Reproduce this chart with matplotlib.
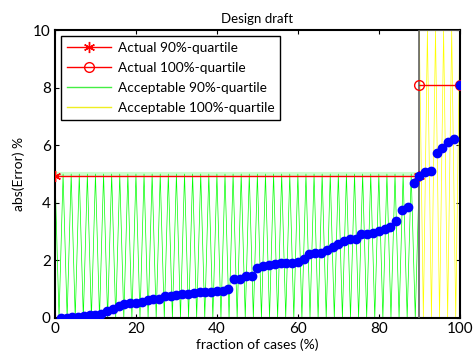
import matplotlib
matplotlib.use("Agg")
import matplotlib.pyplot as plt
import numpy as np

plt.rcParams['font.family'] = ['Lato', 'DejaVu Sans']

# sorted absolute errors (%) for each case
errors = [0.00, 0.01, 0.03, 0.05, 0.08, 0.10, 0.10, 0.13, 0.24, 0.31,
          0.43, 0.50, 0.52, 0.53, 0.57, 0.61, 0.65, 0.66, 0.75, 0.76,
          0.80, 0.82, 0.84, 0.88, 0.90, 0.91, 0.91, 0.94, 0.95, 1.02,
          1.34, 1.36, 1.47, 1.47, 1.72, 1.81, 1.84, 1.87, 1.90, 1.90,
          1.92, 1.96, 2.06, 2.21, 2.27, 2.27, 2.35, 2.45, 2.57, 2.68,
          2.74, 2.74, 2.92, 2.92, 2.96, 3.03, 3.10, 3.17, 3.37, 3.75,
          3.87, 4.68, 4.93, 5.06, 5.10, 5.72, 5.89, 6.10, 6.22, 8.10]

accept_90 = 5.0    # acceptable error for 90% of cases
accept_100 = 10.0  # acceptable error for all cases

n = len(errors)
frac = 100.0 * np.arange(1, n + 1) / n
q90 = errors[int(round(0.9 * n)) - 1]
q100 = errors[-1]

star = (6, 2, 0)  # asterisk marker

fig = plt.figure(figsize=(4.74, 3.63), dpi=100)
ax = fig.add_axes([0.116, 0.124, 0.854, 0.793])

# acceptance regions drawn as zigzag hatching
xg = np.arange(0, 91)
yg = np.where(xg % 2 == 0, accept_90, 0.0)
ax.plot([0, 90], [accept_90, accept_90], color='#00ff00', lw=3, alpha=0.2, zorder=1)
ax.plot(xg, yg, color='#00ff00', lw=0.5, zorder=2)

xy = np.arange(90, 101)
yy = np.where(xy % 2 == 0, accept_100, 0.0)
ax.plot(xy, yy, color='#ffff00', lw=0.5, zorder=2)
ax.plot([90, 90, 100], [0, accept_100, accept_100], color='#606060', lw=1.2, zorder=3)

# actual quartiles
ax.plot([0, 90], [q90, q90], color='#ff0000', lw=1.0, marker=star, ms=8, zorder=4)
ax.plot([90, 100], [q100, q100], color='#ff0000', lw=1.0, marker='o', ms=7,
        mfc='none', zorder=4)

ax.plot(frac, errors, 'o', color='#0000ff', ms=6, zorder=5)

# legend proxies
h1, = ax.plot([], [], color='#ff0000', lw=1.0, marker=star, ms=8)
h2, = ax.plot([], [], color='#ff0000', lw=1.0, marker='o', ms=7, mfc='none')
h3, = ax.plot([], [], color='#44ee44', lw=1.0)
h4, = ax.plot([], [], color='#eeee22', lw=1.0)
leg = ax.legend([h1, h2, h3, h4],
                ['Actual 90%-quartile', 'Actual 100%-quartile',
                 'Acceptable 90%-quartile', 'Acceptable 100%-quartile'],
                loc='upper left', fontsize=9.8, fancybox=False, framealpha=1,
                edgecolor='black', handlelength=3.3, borderaxespad=0.45,
                labelspacing=0.6, borderpad=0.4, handletextpad=0.5)
leg.get_frame().set_linewidth(1.0)
leg.set_zorder(10)

ax.set_xlim(0, 100)
ax.set_ylim(0, 10)
ax.set_xticks([0, 20, 40, 60, 80, 100])
ax.set_yticks([0, 2, 4, 6, 8, 10])
ax.tick_params(direction='in', top=True, right=True, length=3, labelsize=11,
               pad=3)
for s in ax.spines.values():
    s.set_linewidth(1.5)

ax.set_title('Design draft', fontsize=9.5, pad=5)
ax.set_xlabel('fraction of cases (%)', fontsize=10, labelpad=2)
ax.set_ylabel('abs(Error) %', fontsize=10, labelpad=6)

fig.savefig('out.png', dpi=100)
